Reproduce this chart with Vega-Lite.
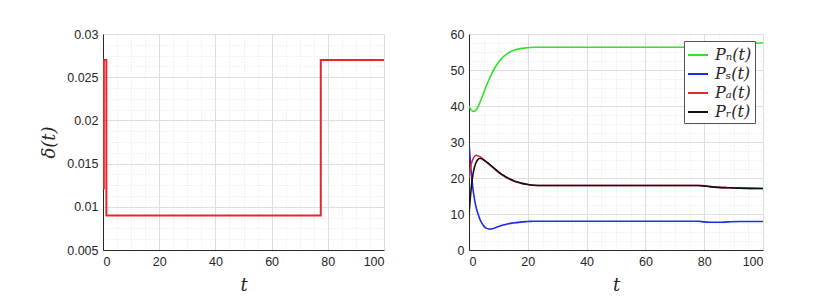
{
  "$schema": "https://vega.github.io/schema/vega-lite/v6.json",
  "background": "white",
  "padding": {"left": 40, "top": 28, "right": 5, "bottom": 5},
  "spacing": 66,
  "resolve": {"scale": {"color": "independent"}, "legend": {"color": "independent"}},
  "config": {
    "view": {"stroke": null},
    "axis": {
      "labelFont": "Liberation Sans",
      "labelFontSize": 12.5,
      "labelColor": "#262626",
      "domainColor": "#262626",
      "domainWidth": 1,
      "ticks": false,
      "labelPadding": 5,
      "titleFont": "DejaVu Serif",
      "titleFontStyle": "italic",
      "titleFontWeight": "normal",
      "titleFontSize": 18,
      "titleColor": "#262626"
    }
  },
  "datasets": {
    "delta": [
      {"i": 0, "t": 0.3, "delta": 0.012},
      {"i": 1, "t": 0.3, "delta": 0.027},
      {"i": 2, "t": 1.2, "delta": 0.027},
      {"i": 3, "t": 1.2, "delta": 0.009},
      {"i": 4, "t": 77.5, "delta": 0.009},
      {"i": 5, "t": 77.5, "delta": 0.027},
      {"i": 6, "t": 100, "delta": 0.027}
    ],
    "pop": [
      {"t": 0, "Pn": 40, "Ps": 30, "Pa": 20, "Pr": 10},
      {"t": 0.5, "Pn": 39.2, "Ps": 24, "Pa": 22.8, "Pr": 15},
      {"t": 1, "Pn": 38.7, "Ps": 19.5, "Pa": 24.5, "Pr": 19},
      {"t": 1.5, "Pn": 38.5, "Ps": 16, "Pa": 25.5, "Pr": 21.7},
      {"t": 2, "Pn": 38.6, "Ps": 13.5, "Pa": 26.1, "Pr": 23.4},
      {"t": 2.5, "Pn": 39.0, "Ps": 11.6, "Pa": 26.3, "Pr": 24.5},
      {"t": 3, "Pn": 39.7, "Ps": 10.2, "Pa": 26.2, "Pr": 25.1},
      {"t": 3.5, "Pn": 40.6, "Ps": 9.0, "Pa": 26.0, "Pr": 25.4},
      {"t": 4, "Pn": 41.6, "Ps": 8.0, "Pa": 25.8, "Pr": 25.4},
      {"t": 5, "Pn": 43.7, "Ps": 6.7, "Pa": 25.1, "Pr": 25.0},
      {"t": 6, "Pn": 45.8, "Ps": 6.0, "Pa": 24.4, "Pr": 24.4},
      {"t": 7, "Pn": 47.7, "Ps": 5.8, "Pa": 23.7, "Pr": 23.8},
      {"t": 8, "Pn": 49.4, "Ps": 5.9, "Pa": 23.0, "Pr": 23.1},
      {"t": 9, "Pn": 50.9, "Ps": 6.2, "Pa": 22.3, "Pr": 22.4},
      {"t": 10, "Pn": 52.1, "Ps": 6.5, "Pa": 21.6, "Pr": 21.7},
      {"t": 11, "Pn": 53.1, "Ps": 6.8, "Pa": 21.0, "Pr": 21.1},
      {"t": 12, "Pn": 53.9, "Ps": 7.0, "Pa": 20.5, "Pr": 20.6},
      {"t": 13, "Pn": 54.5, "Ps": 7.2, "Pa": 20.0, "Pr": 20.1},
      {"t": 14, "Pn": 55.0, "Ps": 7.4, "Pa": 19.6, "Pr": 19.7},
      {"t": 15, "Pn": 55.4, "Ps": 7.5, "Pa": 19.2, "Pr": 19.3},
      {"t": 16, "Pn": 55.7, "Ps": 7.6, "Pa": 18.9, "Pr": 19.0},
      {"t": 18, "Pn": 56.0, "Ps": 7.8, "Pa": 18.5, "Pr": 18.5},
      {"t": 20, "Pn": 56.2, "Ps": 7.9, "Pa": 18.2, "Pr": 18.2},
      {"t": 22, "Pn": 56.3, "Ps": 8.0, "Pa": 18.0, "Pr": 18.0},
      {"t": 25, "Pn": 56.3, "Ps": 8.0, "Pa": 17.9, "Pr": 17.9},
      {"t": 30, "Pn": 56.3, "Ps": 8.0, "Pa": 17.9, "Pr": 17.9},
      {"t": 40, "Pn": 56.3, "Ps": 8.0, "Pa": 17.9, "Pr": 17.9},
      {"t": 50, "Pn": 56.3, "Ps": 8.0, "Pa": 17.9, "Pr": 17.9},
      {"t": 60, "Pn": 56.3, "Ps": 8.0, "Pa": 17.9, "Pr": 17.9},
      {"t": 70, "Pn": 56.3, "Ps": 8.0, "Pa": 17.9, "Pr": 17.9},
      {"t": 78, "Pn": 56.3, "Ps": 8.0, "Pa": 17.9, "Pr": 17.9},
      {"t": 80, "Pn": 56.5, "Ps": 7.8, "Pa": 17.8, "Pr": 17.8},
      {"t": 82, "Pn": 56.8, "Ps": 7.7, "Pa": 17.6, "Pr": 17.6},
      {"t": 85, "Pn": 57.1, "Ps": 7.7, "Pa": 17.4, "Pr": 17.4},
      {"t": 88, "Pn": 57.3, "Ps": 7.8, "Pa": 17.3, "Pr": 17.3},
      {"t": 92, "Pn": 57.4, "Ps": 7.9, "Pa": 17.2, "Pr": 17.2},
      {"t": 100, "Pn": 57.5, "Ps": 7.9, "Pa": 17.1, "Pr": 17.1}
    ]
  },
  "hconcat": [
    {
      "width": 281,
      "height": 216,
      "data": {"name": "delta"},
      "mark": {"type": "line", "color": "#e8262b", "strokeWidth": 2, "clip": true},
      "encoding": {
        "order": {"field": "i", "type": "quantitative"},
        "x": {
          "field": "t", "type": "quantitative",
          "scale": {"domain": [0, 100], "nice": false},
          "axis": {
            "title": "t",
            "values": [0,5,10,15,20,25,30,35,40,45,50,55,60,65,70,75,80,85,90,95,100],
            "labelExpr": "datum.value % 20 === 0 ? datum.label : ''",
            "gridColor": {"condition": {"test": "datum.value % 20 === 0", "value": "#dedede"}, "value": "#e4e4e4"},
            "gridDash": {"condition": {"test": "datum.value % 20 === 0", "value": []}, "value": [1, 2]},
            "titlePadding": 9
          }
        },
        "y": {
          "field": "delta", "type": "quantitative",
          "scale": {"domain": [0.005, 0.03], "nice": false, "zero": false},
          "axis": {
            "title": "δ(t)",
            "values": [0.005,0.00625,0.0075,0.00875,0.01,0.01125,0.0125,0.01375,0.015,0.01625,0.0175,0.01875,0.02,0.02125,0.0225,0.02375,0.025,0.02625,0.0275,0.02875,0.03],
            "labelExpr": "abs(datum.value*200 - round(datum.value*200)) < 1e-6 ? format(datum.value, '.3~f') : ''",
            "gridColor": {"condition": {"test": "abs(datum.value*200 - round(datum.value*200)) < 1e-6", "value": "#dedede"}, "value": "#e4e4e4"},
            "gridDash": {"condition": {"test": "abs(datum.value*200 - round(datum.value*200)) < 1e-6", "value": []}, "value": [1, 2]},
            "titlePadding": 8
          }
        }
      }
    },
    {
      "width": 294,
      "height": 216,
      "data": {"name": "pop"},
      "transform": [
        {"fold": ["Pn", "Ps", "Pa", "Pr"], "as": ["series", "value"]}
      ],
      "mark": {"type": "line", "strokeWidth": 1.6, "interpolate": "monotone", "clip": true},
      "encoding": {
        "x": {
          "field": "t", "type": "quantitative",
          "scale": {"domain": [0, 100], "nice": false},
          "axis": {
            "title": "t",
            "values": [0,5,10,15,20,25,30,35,40,45,50,55,60,65,70,75,80,85,90,95,100],
            "labelExpr": "datum.value % 20 === 0 ? datum.label : ''",
            "gridColor": {"condition": {"test": "datum.value % 20 === 0", "value": "#dedede"}, "value": "#e4e4e4"},
            "gridDash": {"condition": {"test": "datum.value % 20 === 0", "value": []}, "value": [1, 2]},
            "titlePadding": 9
          }
        },
        "y": {
          "field": "value", "type": "quantitative",
          "scale": {"domain": [0, 60], "nice": false},
          "axis": {
            "title": null,
            "values": [0,2.5,5,7.5,10,12.5,15,17.5,20,22.5,25,27.5,30,32.5,35,37.5,40,42.5,45,47.5,50,52.5,55,57.5,60],
            "labelExpr": "datum.value % 10 === 0 ? datum.label : ''",
            "gridColor": {"condition": {"test": "datum.value % 10 === 0", "value": "#dedede"}, "value": "#e4e4e4"},
            "gridDash": {"condition": {"test": "datum.value % 10 === 0", "value": []}, "value": [1, 2]}
          }
        },
        "color": {
          "field": "series", "type": "nominal",
          "scale": {"domain": ["Pn", "Ps", "Pa", "Pr"], "range": ["#33e02a", "#1f2ee0", "#e8262b", "#111111"]},
          "legend": {
            "title": null,
            "orient": "none",
            "legendX": 215,
            "legendY": 7,
            "symbolType": "stroke",
            "symbolSize": 400,
            "symbolStrokeWidth": 2,
            "labelFont": "DejaVu Serif",
            "labelFontStyle": "italic",
            "labelFontSize": 16,
            "labelColor": "#262626",
            "labelOffset": 6,
            "rowPadding": 0,
            "fillColor": "white",
            "strokeColor": "#555555",
            "padding": 3,
            "labelExpr": "{'Pn': 'Pₙ(t)', 'Ps': 'Pₛ(t)', 'Pa': 'Pₐ(t)', 'Pr': 'Pᵣ(t)'}[datum.value]"
          }
        }
      }
    }
  ]
}
